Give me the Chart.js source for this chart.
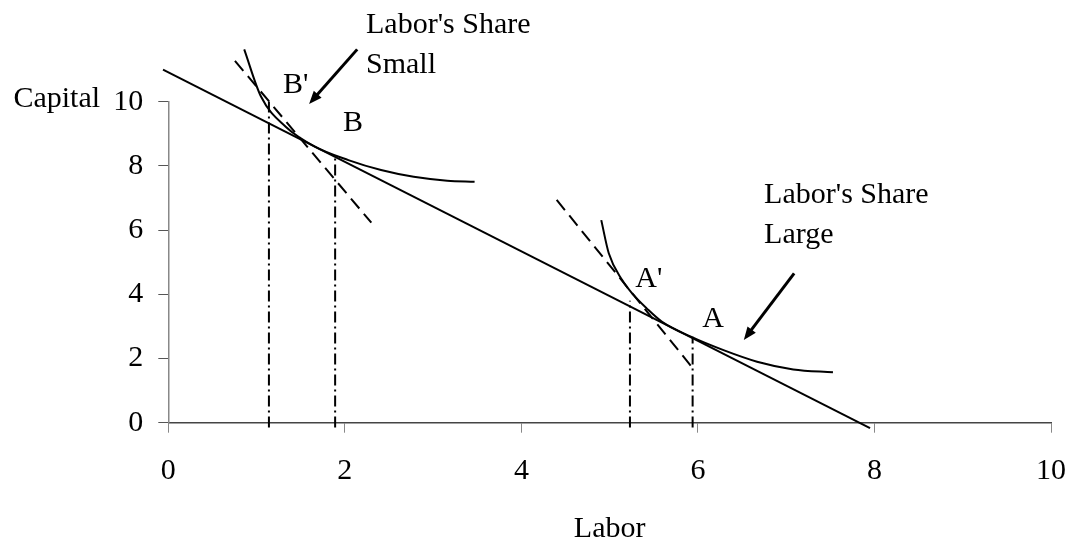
<!DOCTYPE html>
<html>
<head>
<meta charset="utf-8">
<script src="https://cdn.jsdelivr.net/npm/chart.js@4"></script>
<style>
    body { margin: 0; background: #fff; }
    #wrap { width: 1086px; height: 550px; position: relative; }
</style>
</head>
<body>
<div id="wrap"><canvas id="isoChart"></canvas></div>
<script>
// budget line
var budgetLabor = [-0.06, 7.95];
var budgetCapital = [11.0, -0.17];

// isoquant near B (labor's share small)
var isoBLabor = [0.86, 1.05, 1.33, 1.66, 2.04, 2.41, 2.78, 3.16, 3.47];
var isoBCapital = [11.63, 10.16, 9.22, 8.60, 8.18, 7.87, 7.66, 7.54, 7.51];

// isoquant near A (labor's share large)
var isoALabor = [4.905, 4.99, 5.14, 5.27, 5.42, 5.59, 5.92, 6.29, 6.67, 7.08, 7.53];
var isoACapital = [6.31, 5.28, 4.45, 3.98, 3.56, 3.15, 2.68, 2.26, 1.90, 1.66, 1.57];

// steeper dashed price lines through B' and A'
var dashBLabor = [0.755, 2.30];
var dashBCapital = [11.27, 6.23];
var dashALabor = [4.40, 5.93];
var dashACapital = [6.94, 1.74];

// dash-dot drop lines: B', B, A', A
var dropLabor = [1.14, 1.89, 5.23, 5.94];
var dropTop = [10.1, 8.3, 3.8, 2.68];
var dropBottom = -0.15;

// text notes
var noteText = ["Labor's Share", "Small", "B'", "B", "Labor's Share", "Large", "A'", "A", "Capital"];
var noteLabor = [2.24, 2.24, 1.30, 1.98, 6.75, 6.75, 5.29, 6.05, -1.755];
var noteCapital = [12.13, 10.89, 10.26, 9.10, 6.84, 5.60, 4.22, 2.98, 9.84];

// arrows [from, to]
var arrowFromLabor = [2.14, 7.09];
var arrowFromCapital = [11.63, 4.65];
var arrowToLabor = [1.595, 6.52];
var arrowToCapital = [9.93, 2.58];

var xTicks = [0, 2, 4, 6, 8, 10];
var yTicks = [0, 2, 4, 6, 8, 10];

var serif = "'Liberation Serif', 'Times New Roman', serif";

function pts(xs, ys) {
    var out = [];
    for (var i = 0; i < xs.length; i++) {
        out.push({ x: xs[i], y: ys[i] });
    }
    return out;
}

function lineSet(data, dash, smooth) {
    return {
        data: data,
        showLine: true,
        borderColor: '#000',
        borderWidth: 2,
        borderDash: dash || [],
        pointRadius: 0,
        fill: false,
        clip: false,
        tension: smooth ? 0.4 : 0,
        cubicInterpolationMode: smooth ? 'monotone' : 'default'
    };
}

var datasets = [
    lineSet(pts(budgetLabor, budgetCapital)),
    lineSet(pts(isoBLabor, isoBCapital), null, true),
    lineSet(pts(isoALabor, isoACapital), null, true),
    lineSet(pts(dashBLabor, dashBCapital), [13, 7]),
    lineSet(pts(dashALabor, dashACapital), [13, 7])
];
for (var d = 0; d < dropLabor.length; d++) {
    datasets.push(lineSet([{ x: dropLabor[d], y: dropBottom }, { x: dropLabor[d], y: dropTop[d] }], [11, 4, 2, 4]));
}

// draws the text notes and the two arrows in data coordinates
var notesPlugin = {
    id: 'notes',
    afterDatasetsDraw: function (chart) {
        var ctx = chart.ctx;
        var xs = chart.scales.x;
        var ys = chart.scales.y;
        ctx.save();
        ctx.fillStyle = '#000';
        ctx.font = '30px ' + serif;
        ctx.textAlign = 'left';
        ctx.textBaseline = 'alphabetic';
        for (var i = 0; i < noteText.length; i++) {
            ctx.fillText(noteText[i], xs.getPixelForValue(noteLabor[i]), ys.getPixelForValue(noteCapital[i]));
        }

        ctx.strokeStyle = '#000';
        ctx.lineWidth = 3;
        for (var a = 0; a < arrowFromLabor.length; a++) {
            var x1 = xs.getPixelForValue(arrowFromLabor[a]);
            var y1 = ys.getPixelForValue(arrowFromCapital[a]);
            var x2 = xs.getPixelForValue(arrowToLabor[a]);
            var y2 = ys.getPixelForValue(arrowToCapital[a]);
            var ang = Math.atan2(y2 - y1, x2 - x1);
            var head = 14;
            var bx = x2 - head * 0.8 * Math.cos(ang);
            var by = y2 - head * 0.8 * Math.sin(ang);
            ctx.beginPath();
            ctx.moveTo(x1, y1);
            ctx.lineTo(bx, by);
            ctx.stroke();
            ctx.beginPath();
            ctx.moveTo(x2, y2);
            ctx.lineTo(x2 - head * Math.cos(ang - 0.38), y2 - head * Math.sin(ang - 0.38));
            ctx.lineTo(x2 - head * Math.cos(ang + 0.38), y2 - head * Math.sin(ang + 0.38));
            ctx.closePath();
            ctx.fill();
        }
        ctx.restore();
    }
};

new Chart(document.getElementById('isoChart'), {
    type: 'scatter',
    data: { datasets: datasets },
    options: {
        responsive: true,
        maintainAspectRatio: false,
        animation: false,
        layout: { padding: { left: 0, top: 101.7, right: 25.3, bottom: 0 } },
        plugins: {
            legend: { display: false },
            tooltip: { enabled: false }
        },
        scales: {
            x: {
                type: 'linear',
                min: 0,
                max: 10,
                afterFit: function (scale) { scale.height = 127.3; },
                afterBuildTicks: function (scale) {
                    scale.ticks = xTicks.map(function (v) { return { value: v }; });
                },
                border: { display: true, color: '#444', width: 1.5 },
                grid: { drawOnChartArea: false, tickLength: 10, color: '#888', tickColor: '#888' },
                ticks: { color: '#000', padding: 20, font: { family: serif, size: 30 } },
                title: {
                    display: true,
                    text: 'Labor',
                    color: '#000',
                    font: { family: serif, size: 30 },
                    padding: { top: 0, bottom: 3 }
                }
            },
            y: {
                type: 'linear',
                min: 0,
                max: 10,
                afterFit: function (scale) { scale.width = 168.3; },
                afterBuildTicks: function (scale) {
                    scale.ticks = yTicks.map(function (v) { return { value: v }; });
                },
                border: { display: true, color: '#888', width: 1.5 },
                grid: { drawOnChartArea: false, tickLength: 10, color: '#555', tickColor: '#555' },
                ticks: { color: '#000', padding: 15, font: { family: serif, size: 30 } }
            }
        }
    },
    plugins: [notesPlugin]
});
</script>
</body>
</html>
